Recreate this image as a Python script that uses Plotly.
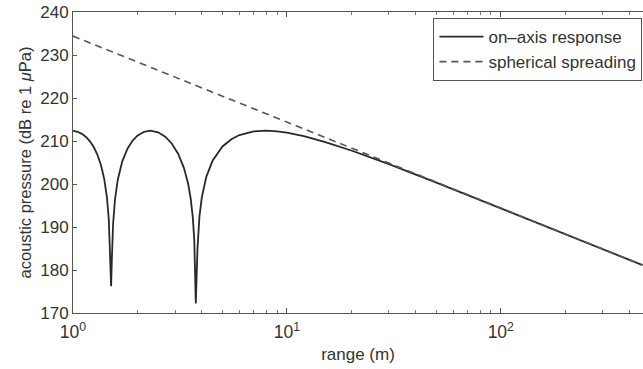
import plotly.graph_objects as go

# on-axis response (range m, level dB)
resp_range = [1.0, 1.05, 1.1, 1.15, 1.2, 1.25, 1.3, 1.35, 1.4, 1.44, 1.47, 1.49, 1.507,
              1.52, 1.54, 1.57, 1.62, 1.7, 1.8, 1.9, 2.0, 2.15, 2.3, 2.5, 2.7, 2.9,
              3.1, 3.3, 3.45, 3.55, 3.63, 3.69, 3.75, 3.82, 3.9, 4.0, 4.2, 4.5, 5.0,
              5.5, 6.0, 7.0, 8.0, 9.0, 10, 12, 15, 20, 30, 50, 100, 200, 300, 460]
resp_level = [212.38, 212.15, 211.67, 210.94, 209.92, 208.59, 206.84, 204.49, 201.14,
              197.0, 191.8, 184.8, 176.2, 182.8, 190.7, 196.2, 201.05, 205.28, 208.28,
              210.09, 211.23, 212.14, 212.4, 212.03, 210.99, 209.36, 207.04, 203.76,
              200.17, 196.64, 192.37, 186.95, 172.2, 185.0, 192.35, 196.83, 201.66,
              205.48, 208.73, 210.42, 211.38, 212.23, 212.4, 212.25, 211.94, 211.13,
              209.81, 207.79, 204.6, 200.33, 194.39, 188.38, 184.86, 181.14]

# spherical spreading
sph_range = [1, 10, 100, 460]
sph_level = [234.4, 214.4, 194.4, 181.15]

major_x = [1, 10, 100]
major_text = ["10<sup>0</sup>", "10<sup>1</sup>", "10<sup>2</sup>"]
minor_x = [2, 3, 4, 5, 6, 7, 8, 9, 20, 30, 40, 50, 60, 70, 80, 90, 200, 300, 400]
y_ticks = [170, 180, 190, 200, 210, 220, 230, 240]

font_family = "Liberation Sans, Arial, sans-serif"
txt = "#333333"

fig = go.Figure()
fig.add_trace(go.Scatter(x=resp_range, y=resp_level, mode="lines",
                         name="on\u2013axis response",
                         line=dict(color="#262a30", width=1.8)))
fig.add_trace(go.Scatter(x=sph_range, y=sph_level, mode="lines",
                         name="spherical spreading",
                         line=dict(color="#555555", width=1.6, dash="7px,5px")))

fig.update_layout(
    width=643, height=369,
    margin=dict(l=73, r=0, t=12, b=56),
    paper_bgcolor="white", plot_bgcolor="white",
    font=dict(family=font_family, size=17, color=txt),
    showlegend=True,
    legend=dict(x=0.999, y=0.98, xanchor="right", yanchor="top",
                bordercolor="#555555", borderwidth=1, bgcolor="white",
                font=dict(size=17, color=txt), tracegroupgap=0,
                itemwidth=44),
)
fig.update_xaxes(
    type="log", range=[0, 2.665],
    tickvals=major_x, ticktext=major_text,
    ticks="inside", ticklen=5, tickcolor="#555555",
    minor=dict(tickvals=minor_x, ticks="inside", ticklen=3, tickcolor="#777777"),
    showline=True, linecolor="#555555", linewidth=1, mirror="ticks",
    showgrid=False, zeroline=False,
    tickfont=dict(size=17.5, color=txt), ticklabelstandoff=3,
    title=dict(text="range (m)", font=dict(size=17, color=txt), standoff=7),
)
fig.update_yaxes(
    range=[170, 240], tickvals=y_ticks,
    ticks="inside", ticklen=4, tickcolor="#555555",
    showline=True, linecolor="#555555", linewidth=1,
    showgrid=False, zeroline=False,
    tickfont=dict(size=17, color=txt),
    title=dict(text="acoustic pressure (dB re 1 <i>\u03bc</i>Pa)",
               font=dict(size=16.5, color=txt), standoff=4),
)

fig.write_html("out.html")
